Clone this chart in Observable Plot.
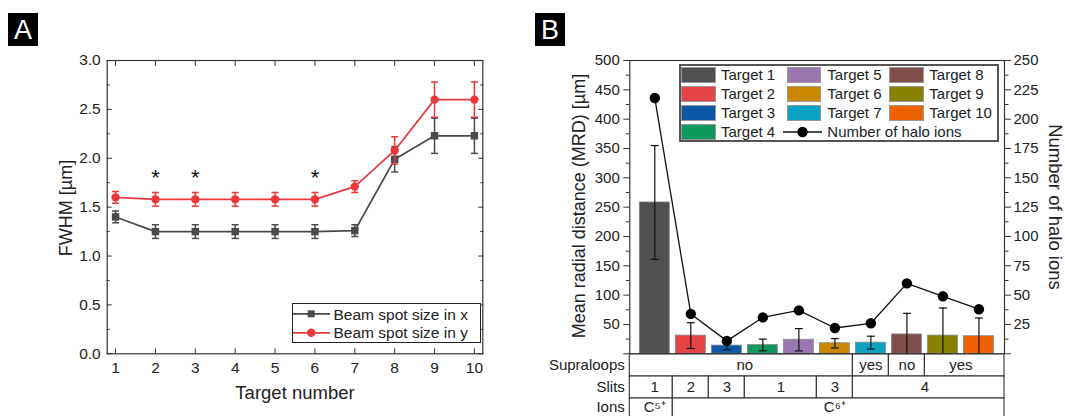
<!DOCTYPE html>
<html><head><meta charset="utf-8">
<script src="https://cdn.jsdelivr.net/npm/d3@7"></script>
<script src="https://cdn.jsdelivr.net/npm/@observablehq/plot@0.6"></script>
<style>
html,body{margin:0;padding:0;background:#fff;overflow:hidden}
#root{position:relative;width:1065px;height:416px;overflow:hidden;font-family:"Liberation Sans",Arial,sans-serif;color:#222}
.abs{position:absolute}
.tag{position:absolute;background:#000;color:#fff;font-size:27px;text-align:center;width:30px;height:33px;line-height:34px}
.title{position:absolute;font-size:18px;white-space:nowrap;transform-origin:center;line-height:1}
.lbl{position:absolute;font-size:15px;white-space:nowrap;line-height:18px}
</style></head><body><div id="root"></div>
<script>
// ---------- Data: panel A ----------
const targets = [1,2,3,4,5,6,7,8,9,10];
const fwhmX    = [1.40,1.25,1.25,1.25,1.25,1.25,1.26,1.99,2.23,2.23];
const fwhmXErr = [0.06,0.07,0.07,0.07,0.07,0.07,0.06,0.13,0.18,0.18];
const fwhmY    = [1.60,1.58,1.58,1.58,1.58,1.58,1.71,2.08,2.60,2.60];
const fwhmYErr = [0.06,0.07,0.07,0.07,0.07,0.07,0.06,0.14,0.18,0.18];
const starTargets = [2,3,6];
const starLevel = 1.85;
const seriesA = ["Beam spot size in x","Beam spot size in y"];
const yTicksA = [0,0.5,1,1.5,2,2.5,3];
const yMinorA = [0.25,0.75,1.25,1.75,2.25,2.75];

// ---------- Data: panel B ----------
const targetNames = ["Target 1","Target 2","Target 3","Target 4","Target 5","Target 6","Target 7","Target 8","Target 9","Target 10"];
const targetColors = ["#505050","#e64346","#0c58a6","#0e9a5c","#9a77ae","#c98700","#0aa2c1","#7f4e4b","#878000","#ee6200"];
const mrd      = [258,31,14,15,24,18,19,33,31,30];
const mrdErr   = [97,22,7,10,19,8,11,36,47,31];
const haloIons = [218,34,11,31,37,22,26,60,49,38];
const yTicksB = [50,100,150,200,250,300,350,400,450,500];
const yTicksHalo = [25,50,75,100,125,150,175,200,225,250];
const rowNames = ["Supraloops","Slits","Ions"];
const supraloops = [{from:1,to:6,label:"no"},{from:7,to:7,label:"yes"},{from:8,to:8,label:"no"},{from:9,to:10,label:"yes"}];
const slits = [{from:1,to:1,label:"1"},{from:2,to:2,label:"2"},{from:3,to:3,label:"3"},{from:4,to:5,label:"1"},{from:6,to:6,label:"3"},{from:7,to:10,label:"4"}];
const ions = [{from:1,to:1,label:"C\u2075\u207A"},{from:2,to:10,label:"C\u2076\u207A"}];

// ---------- helpers ----------
const root = document.getElementById("root");
const FONT = "'Liberation Sans', Arial, sans-serif";
const svgStyle = `max-width:none;background:transparent;font-family:${FONT};font-size:15px;color:#222;`;
const cap = {draw(ctx, size){ const w = Math.sqrt(size/Math.PI); ctx.moveTo(-w,0); ctx.lineTo(w,0); }};
function place(node, left, top){ const d = document.createElement("div"); d.className="abs"; d.style.left=left+"px"; d.style.top=top+"px"; d.appendChild(node); root.appendChild(d); return d; }
function html(str){ const t=document.createElement("template"); t.innerHTML=str.trim(); return t.content.firstChild; }

// ---------- Panel A ----------
const cBlack = "#4a4a4a", cRed = "#e8393d";
const dataA = targets.map((t,i)=>({t, x:fwhmX[i], xe:fwhmXErr[i], y:fwhmY[i], ye:fwhmYErr[i]}));
const stars = starTargets.map(t=>({t, y:starLevel}));
const plotA = Plot.plot({
  width:520, height:416, marginLeft:106.7, marginRight:37.7, marginTop:60, marginBottom:62.7,
  style: svgStyle,
  x:{domain:[0.79,10.21]}, y:{domain:[0,3]},
  marks:[
    Plot.axisY(yTicksA,{anchor:"left", tickSize:5, dx:5, fill:"none", stroke:"#333", label:null}),
    Plot.axisY(yMinorA,{anchor:"left", tickSize:3, dx:3, fill:"none", stroke:"#333", label:null}),
    Plot.axisY(yTicksA,{anchor:"right", tickSize:5, dx:-5, fill:"none", stroke:"#333", label:null}),
    Plot.axisY(yMinorA,{anchor:"right", tickSize:3, dx:-3, fill:"none", stroke:"#333", label:null}),
    Plot.axisX(targets,{anchor:"bottom", tickSize:5, dy:-5, fill:"none", stroke:"#333", label:null}),
    Plot.axisX(targets,{anchor:"top", tickSize:5, dy:5, fill:"none", stroke:"#333", label:null}),
    Plot.axisY(yTicksA,{anchor:"left", tickSize:0, tickPadding:6.5, tickFormat:d=>d.toFixed(1), fontSize:15.5, fill:"#222", label:null}),
    Plot.axisX(targets,{anchor:"bottom", tickSize:0, tickPadding:8, fontSize:15.5, fill:"#222", label:null}),
    Plot.frame({stroke:"#333", strokeWidth:1.2}),
    // series x
    Plot.ruleX(dataA,{x:"t", y1:d=>d.x-d.xe, y2:d=>d.x+d.xe, stroke:cBlack, strokeWidth:1.5}),
    Plot.dot(dataA,{x:"t", y:d=>d.x+d.xe, symbol:cap, r:3.5, stroke:cBlack, fill:"none", strokeWidth:1.5}),
    Plot.dot(dataA,{x:"t", y:d=>d.x-d.xe, symbol:cap, r:3.5, stroke:cBlack, fill:"none", strokeWidth:1.5}),
    Plot.line(dataA,{x:"t", y:"x", stroke:cBlack, strokeWidth:1.7}),
    Plot.dot(dataA,{x:"t", y:"x", symbol:"square", r:4.2, fill:cBlack}),
    // series y
    Plot.ruleX(dataA,{x:"t", y1:d=>d.y-d.ye, y2:d=>d.y+d.ye, stroke:cRed, strokeWidth:1.5}),
    Plot.dot(dataA,{x:"t", y:d=>d.y+d.ye, symbol:cap, r:3.5, stroke:cRed, fill:"none", strokeWidth:1.5}),
    Plot.dot(dataA,{x:"t", y:d=>d.y-d.ye, symbol:cap, r:3.5, stroke:cRed, fill:"none", strokeWidth:1.5}),
    Plot.line(dataA,{x:"t", y:"y", stroke:cRed, strokeWidth:1.7}),
    Plot.dot(dataA,{x:"t", y:"y", r:4.2, fill:cRed}),
    Plot.text(stars,{x:"t", y:"y", text:()=>"*", fontSize:22, dy:5, fill:"#111"})
  ]
});
place(plotA, 0, 0);

// titles A
root.appendChild(html(`<div class="tag" style="left:8px;top:13px">A</div>`));
root.appendChild(html(`<div class="title" style="left:65.7px;top:207.5px;transform:translate(-50%,-50%) rotate(-90deg)">FWHM [µm]</div>`));
root.appendChild(html(`<div class="title" style="left:295px;top:393px;font-size:18.5px;transform:translate(-50%,-50%)">Target number</div>`));

// legend A
(function(){
  const box = html(`<div class="abs" style="left:291.7px;top:303.3px;width:189.3px;height:40px;border:1.5px solid #222;box-sizing:border-box;background:#fff"></div>`);
  root.appendChild(box);
  const cols = [cBlack, cRed];
  seriesA.forEach((name,i)=>{
    const cy = 314 + i*18.7;
    const sym = i===0
      ? `<rect x="14.7" y="3.3" width="7" height="7" fill="${cols[i]}"/>`
      : `<circle cx="18.2" cy="6.8" r="4.2" fill="${cols[i]}"/>`;
    root.appendChild(html(`<svg class="abs" style="left:293.3px;top:${cy-6.8}px" width="37" height="14"><line x1="0" x2="37" y1="6.8" y2="6.8" stroke="${cols[i]}" stroke-width="1.7"/>${sym}</svg>`));
    root.appendChild(html(`<div class="lbl" style="left:333.5px;top:${cy-9.5}px;font-size:15.5px;line-height:19px">${name}</div>`));
  });
})();

// ---------- Panel B ----------
const xDomB = [0.306, 10.71];
const dataB = targets.map((t,i)=>({t, name:targetNames[i], mrd:mrd[i], err:mrdErr[i], halo:haloIons[i]}));
const majorB = d3.range(0, 501, 50), minorB = d3.range(25, 500, 50);
const plotB = Plot.plot({
  width:545, height:416, marginLeft:109.3, marginRight:61, marginTop:60, marginBottom:62.7,
  style: svgStyle,
  x:{domain:xDomB, axis:null}, y:{domain:[0,500]},
  color:{domain:targetNames, range:targetColors},
  marks:[
    Plot.rectY(dataB,{x1:d=>d.t-0.5, x2:d=>d.t+0.5, y:"mrd", insetLeft:3, insetRight:3, fill:"name", stroke:"#8a8a8a", strokeWidth:0.8}),
    Plot.ruleX(dataB,{x:"t", y1:d=>d.mrd-d.err, y2:d=>d.mrd+d.err, stroke:"#111", strokeWidth:1.2, clip:true}),
    Plot.dot(dataB,{x:"t", y:d=>d.mrd+d.err, symbol:cap, r:4, stroke:"#111", fill:"none", strokeWidth:1.2}),
    Plot.dot(dataB.filter(d=>d.mrd-d.err>0),{x:"t", y:d=>d.mrd-d.err, symbol:cap, r:4, stroke:"#111", fill:"none", strokeWidth:1.2}),
    Plot.line(dataB,{x:"t", y:d=>d.halo*2, stroke:"#111", strokeWidth:1.3}),
    Plot.dot(dataB,{x:"t", y:d=>d.halo*2, r:5.2, fill:"#000"}),
    Plot.axisY(majorB,{anchor:"left", tickSize:6, fill:"none", stroke:"#333", label:null}),
    Plot.axisY(minorB,{anchor:"left", tickSize:3.5, fill:"none", stroke:"#333", label:null}),
    Plot.axisY(majorB,{anchor:"right", tickSize:6, fill:"none", stroke:"#333", label:null}),
    Plot.axisY(minorB,{anchor:"right", tickSize:3.5, fill:"none", stroke:"#333", label:null}),
    Plot.axisY(yTicksB,{anchor:"left", tickSize:0, tickPadding:10, fontSize:15, fill:"#222", label:null}),
    Plot.axisY(yTicksHalo.map(v=>v*2),{anchor:"right", tickSize:0, tickPadding:9, tickFormat:d=>String(d/2), fontSize:15, fill:"#222", label:null}),
    Plot.frame({stroke:"#333", strokeWidth:1.2})
  ]
});
place(plotB, 520, 0);

// table under panel B
const cells = [
  ...supraloops.map(d=>({...d,row:rowNames[0]})),
  ...slits.map(d=>({...d,row:rowNames[1]})),
  ...ions.map(d=>({...d,row:rowNames[2]}))
];
const lastRow = rowNames[rowNames.length-1];
const plotT = Plot.plot({
  width:545, height:67, marginLeft:109.3, marginRight:61, marginTop:0, marginBottom:0,
  style: svgStyle,
  x:{domain:xDomB, axis:null}, y:{domain:rowNames, padding:0},
  marks:[
    Plot.barX(cells,{x1:d=>d.from===1?xDomB[0]:d.from-0.5, x2:d=>d.to===10?xDomB[1]:d.to+0.5, y:"row", fill:"#fff", stroke:"#333", strokeWidth:1.1}),
    Plot.text(cells.filter(d=>d.row!==lastRow),{x:d=>(d.from+d.to)/2, y:"row", text:"label", fontSize:15, fill:"#222"}),
    Plot.text(cells.filter(d=>d.row===lastRow),{x:d=>(d.from+d.to)/2, y:"row", text:"label", fontSize:15, dy:-2.5, fill:"#222"}),
    Plot.axisY(rowNames.filter(r=>r!==lastRow),{anchor:"left", tickSize:0, tickPadding:5, fontSize:15, fill:"#222", label:null}),
    Plot.axisY([lastRow],{anchor:"left", tickSize:0, tickPadding:5, fontSize:15, dy:-2.5, fill:"#222", label:null})
  ]
});
place(plotT, 520, 353.3);

root.appendChild(html(`<div class="tag" style="left:535px;top:13px">B</div>`));
root.appendChild(html(`<div class="title" style="left:579px;top:206px;transform:translate(-50%,-50%) rotate(-90deg)">Mean radial distance (MRD) [µm]</div>`));
root.appendChild(html(`<div class="title" style="left:1055px;top:206.5px;font-size:18.5px;transform:translate(-50%,-50%) rotate(90deg)">Number of halo ions</div>`));

// legend B
(function(){
  root.appendChild(html(`<div class="abs" style="left:678.7px;top:64px;width:320.6px;height:77.7px;border:2px solid #555;box-sizing:border-box;background:#fff"></div>`));
  const swX = [681, 786.7, 889.3], txX = [721, 827.3, 929.3];
  const rowY = [75, 94.3, 113.3, 132.3];
  // column-major order: 4 rows in col 1, 3 in col 2 and col 3
  const pos = [[0,0],[0,1],[0,2],[0,3],[1,0],[1,1],[1,2],[2,0],[2,1],[2,2]];
  targetNames.forEach((name,i)=>{
    const [c,r] = pos[i];
    root.appendChild(html(`<div class="abs" style="left:${swX[c]}px;top:${rowY[r]-8}px;width:34.7px;height:16px;background:${targetColors[i]};border:1px solid #999;box-sizing:border-box"></div>`));
    root.appendChild(html(`<div class="lbl" style="left:${txX[c]}px;top:${rowY[r]-9.5}px">${name}</div>`));
  });
  root.appendChild(html(`<svg class="abs" style="left:783px;top:${rowY[3]-7}px" width="39" height="14"><line x1="0" x2="39" y1="7" y2="7" stroke="#111" stroke-width="1.3"/><circle cx="19.5" cy="7" r="5.2" fill="#000"/></svg>`));
  root.appendChild(html(`<div class="lbl" style="left:${txX[1]}px;top:${rowY[3]-9.5}px">Number of halo ions</div>`));
})();
</script>
</body></html>
